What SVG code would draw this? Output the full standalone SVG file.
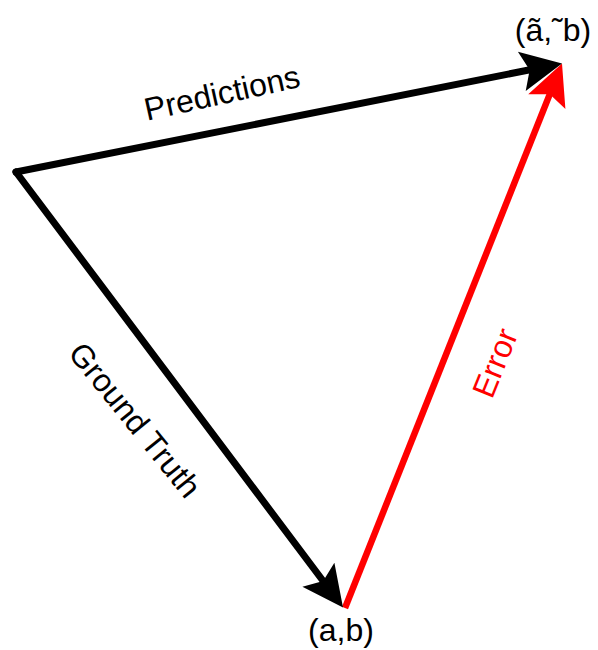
<svg xmlns="http://www.w3.org/2000/svg" width="598" height="650" viewBox="0 0 598 650">
<style>
.lbl{font-family:"Liberation Sans",Arial,Helvetica,sans-serif;font-size:32px;}
.blk{stroke:#000;stroke-width:7;fill:none;stroke-linecap:round;}
.red{stroke:#ff0000;stroke-width:6.5;fill:none;stroke-linecap:butt;}
</style>
<defs>
<marker id="ah-black" markerUnits="userSpaceOnUse" orient="auto" refX="0" refY="0" markerWidth="80" markerHeight="80" viewBox="-40 -40 80 80" overflow="visible">
<path d="M30,0 L-11,-20 L-3,0 L-11,20 Z" fill="#000"/>
</marker>
<marker id="ah-red" markerUnits="userSpaceOnUse" orient="auto" refX="0" refY="0" markerWidth="80" markerHeight="80" viewBox="-40 -40 80 80" overflow="visible">
<path d="M30,0 L-11,-20 L-3,0 L-11,20 Z" fill="#ff0000"/>
</marker>
</defs>
<rect width="598" height="650" fill="#fff"/>
<g id="connectors">
<line id="error" class="red" x1="345" y1="608" x2="550.9" y2="91.4" marker-end="url(#ah-red)"/>
<line id="predictions" class="blk" x1="16" y1="172" x2="532.6" y2="69.3" marker-end="url(#ah-black)"/>
<line id="groundtruth" class="blk" x1="16" y1="172" x2="325" y2="583.5" marker-end="url(#ah-black)"/>
<text class="lbl" x="222" y="93" text-anchor="middle" dominant-baseline="central" transform="rotate(-12.5 222 93)">Predictions</text>
<text class="lbl" x="135" y="420" text-anchor="middle" dominant-baseline="central" transform="rotate(51 135 420)">Ground Truth</text>
<text class="lbl" x="495" y="363" text-anchor="middle" dominant-baseline="central" fill="#ff0000" transform="rotate(-68 495 363)">Error</text>
</g>
<g id="node-pred">
<text class="lbl" x="553" y="41" text-anchor="middle">(ã,˜b)</text>
</g>
<g id="node-true">
<text class="lbl" x="341" y="641" text-anchor="middle">(a,b)</text>
</g>
</svg>
